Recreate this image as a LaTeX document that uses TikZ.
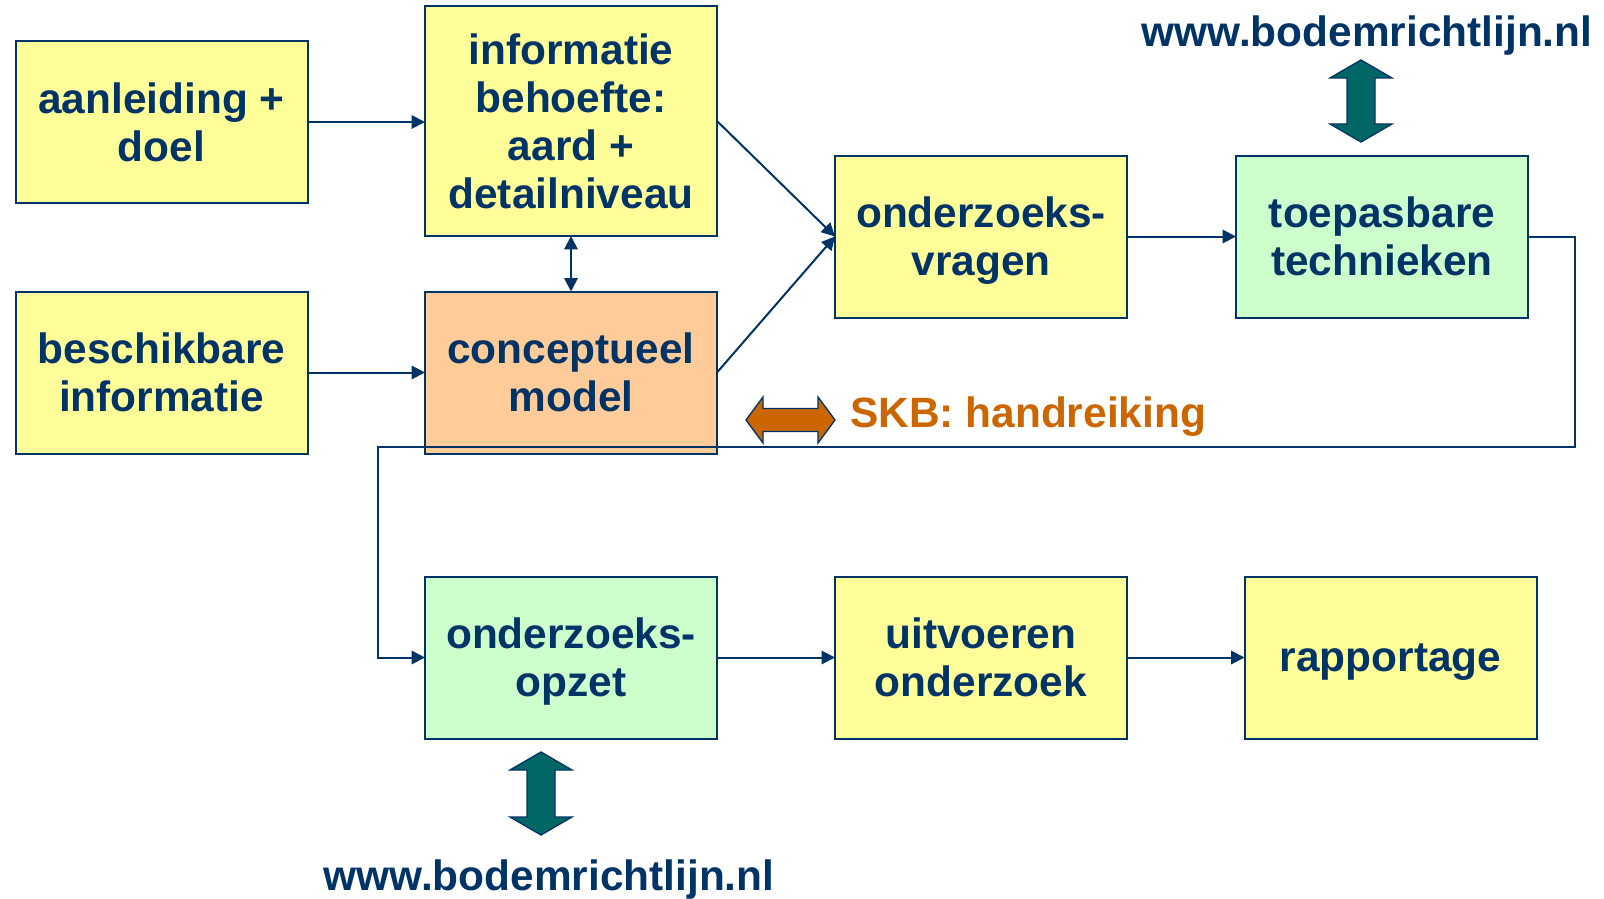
\documentclass[tikz,border=0pt]{standalone}
\usepackage{fontspec}
\setmainfont{Liberation Sans}
\usetikzlibrary{arrows.meta}
\definecolor{navy}{RGB}{0,51,102}
\definecolor{boxyellow}{RGB}{255,255,153}
\definecolor{boxgreen}{RGB}{204,255,204}
\definecolor{boxpeach}{RGB}{255,204,153}
\definecolor{skborange}{RGB}{204,102,0}
\definecolor{tealarrow}{RGB}{0,102,102}
\begin{document}
\begin{tikzpicture}[x=0.75pt,y=-0.75pt,
  box/.style={draw=navy, line width=1.5pt, minimum width=219pt, minimum height=121.5pt,
    inner sep=0pt, outer sep=0pt, align=center, text=navy,
    font=\bfseries\fontsize{31.8}{36}\selectfont, text depth=0pt},
  yel/.style={box, fill=boxyellow},
  grn/.style={box, fill=boxgreen},
  pch/.style={box, fill=boxpeach},
  conn/.style={draw=navy, line width=1.5pt, -{Triangle[length=10pt,width=10pt]}},
  dconn/.style={draw=navy, line width=1.5pt, {Triangle[length=10pt,width=10pt]}-{Triangle[length=10pt,width=10pt]}},
  url/.style={text=navy, font=\bfseries\fontsize{31.8}{36}\selectfont, inner sep=0pt, anchor=base},
  blockarrow/.style={fill=tealarrow, draw=navy, line width=1pt, line join=miter}
]
\useasboundingbox (0,0) rectangle (1604,899);

% boxes
\node[yel] (aan) at (161.5,122) {aanleiding +\\doel};
\node[yel, minimum height=172.5pt] (inf) at (571,121) {informatie\\behoefte:\\aard +\\detailniveau};
\node[yel] (bes) at (161.5,372.5) {beschikbare\\informatie};
\node[pch] (con) at (571,372.5) {conceptueel\\model};
\node[yel] (vra) at (981,236.5) {onderzoeks-\\vragen};
\node[grn] (toe) at (1382,236.5) {toepasbare\\technieken};
\node[grn] (opz) at (571,657.5) {onderzoeks-\\opzet};
\node[yel] (uit) at (981,657.5) {uitvoeren\\onderzoek};
\node[yel] (rap) at (1390.5,657.5) {rapportage};

% texts
\node[url] (urltop) at (1367,47) {www.bodemrichtlijn.nl};
\node[url] (urlbot) at (549,890) {www.bodemrichtlijn.nl};
\node[text=skborange, font=\bfseries\fontsize{31.8}{36}\selectfont, inner sep=0pt, anchor=base west] (skb) at (850,427) {SKB: handreiking};

% connectors
\draw[conn] (aan.east) -- (aan.east -| inf.west);
\draw[conn] (bes.east) -- (con.west);
\draw[dconn] (inf.south) -- (con.north);
\draw[conn] (inf.east) -- (vra.west);
\draw[conn] (con.east) -- (vra.west);
\draw[conn] (vra.east) -- (toe.west);
\coordinate (c1) at (1575,447);
\coordinate (c2) at (378,447);
\draw[conn] (toe.east) -| (c1) -- (c2) |- (opz.west);
\draw[conn] (opz.east) -- (uit.west);
\draw[conn] (uit.east) -- (rap.west);

% block arrows
\filldraw[blockarrow] (1361,60) -- (1392,78) -- (1375,78) -- (1375,124) -- (1392,124) -- (1361,142)
  -- (1330,124) -- (1347,124) -- (1347,78) -- (1330,78) -- cycle;
\filldraw[blockarrow] (541,752) -- (572,770) -- (555,770) -- (555,817) -- (572,817) -- (541,835)
  -- (510,817) -- (527,817) -- (527,770) -- (510,770) -- cycle;
\filldraw[blockarrow, fill=skborange] (746,420) -- (763,397) -- (763,408.5) -- (818,408.5) -- (818,397) -- (835,420)
  -- (818,443) -- (818,431.5) -- (763,431.5) -- (763,443) -- cycle;
\end{tikzpicture}
\end{document}
